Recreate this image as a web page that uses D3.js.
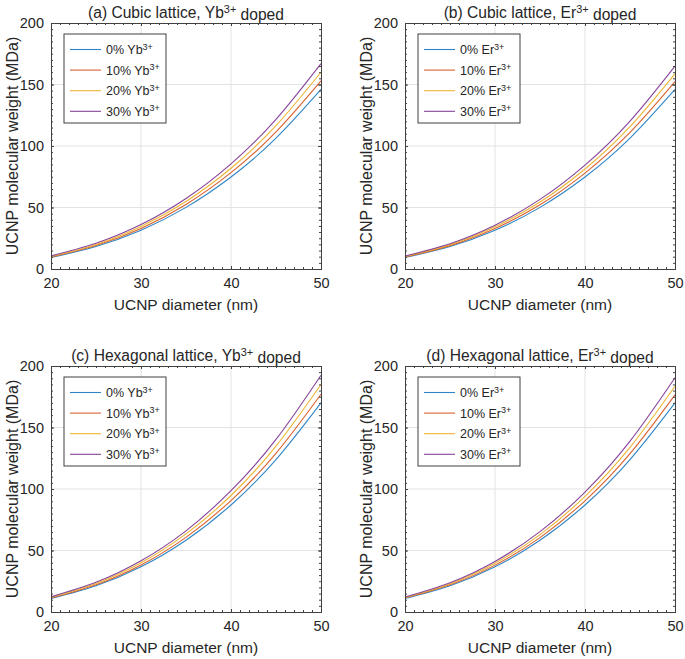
<!DOCTYPE html>
<html><head><meta charset="utf-8">
<script src="https://cdn.jsdelivr.net/npm/d3@7"></script>
<style>body{margin:0;background:#fff}svg{display:block}text{font-family:"Liberation Sans",Arial,Helvetica,sans-serif;fill:#262626}</style>
</head><body>
<script>
const diameters = [20, 25, 30, 35, 40, 45, 50];
const xTicks = [20, 30, 40, 50];
const yTicks = [0, 50, 100, 150, 200];
const dopingLabels = ["0%", "10%", "20%", "30%"];
// values (MDa)
const cubicYb0 = [9.3, 18.3, 31.5, 50.1, 74.8, 106.4, 146];
const cubicYb1 = [9.8, 19.1, 33.0, 52.5, 78.3, 111.5, 153];
const cubicYb2 = [10.2, 20.0, 34.6, 54.9, 81.9, 116.6, 160];
const cubicYb3 = [10.7, 20.9, 36.1, 57.3, 85.5, 121.7, 167];
const cubicEr0 = [9.3, 18.3, 31.5, 50.1, 74.8, 106.4, 146];
const cubicEr1 = [9.7, 19.0, 32.9, 52.2, 78.0, 111.0, 152.3];
const cubicEr2 = [10.2, 19.8, 34.3, 54.4, 81.3, 115.7, 158.7];
const cubicEr3 = [10.6, 20.6, 35.6, 56.6, 84.5, 120.3, 165];
const hexYb0 = [10.9, 21.3, 36.7, 58.3, 87.0, 123.9, 170];
const hexYb1 = [11.3, 22.1, 38.2, 60.7, 90.6, 129.0, 177];
const hexYb2 = [11.8, 23.1, 40.0, 63.5, 94.7, 134.9, 185];
const hexYb3 = [12.3, 24.1, 41.6, 66.0, 98.6, 140.3, 192.5];
const hexEr0 = [10.9, 21.3, 36.7, 58.3, 87.0, 123.9, 170];
const hexEr1 = [11.3, 22.1, 38.1, 60.5, 90.4, 128.7, 176.5];
const hexEr2 = [11.7, 22.9, 39.6, 62.9, 94.0, 133.8, 183.5];
const hexEr3 = [12.2, 23.8, 41.1, 65.3, 97.5, 138.9, 190.5];
const colors = ["#2f86c6", "#d9622f", "#ecb434", "#86449a"];

const panels = [
  {pre: "(a) Cubic lattice, ", ion: "Yb", series: [cubicYb0, cubicYb1, cubicYb2, cubicYb3], left: 51, top: 23},
  {pre: "(b) Cubic lattice, ", ion: "Er", series: [cubicEr0, cubicEr1, cubicEr2, cubicEr3], left: 405, top: 23},
  {pre: "(c) Hexagonal lattice, ", ion: "Yb", series: [hexYb0, hexYb1, hexYb2, hexYb3], left: 51, top: 366},
  {pre: "(d) Hexagonal lattice, ", ion: "Er", series: [hexEr0, hexEr1, hexEr2, hexEr3], left: 405, top: 366}
];
const W = 270, H = 246;

const svg = d3.select("body").append("svg").attr("width", 685).attr("height", 659);

panels.forEach(p => {
  const g = svg.append("g").attr("transform", `translate(${p.left},${p.top})`);
  const x = d3.scaleLinear().domain([20, 50]).range([0, W]);
  const y = d3.scaleLinear().domain([0, 200]).range([H, 0]);

  // grid
  g.append("g").selectAll("line").data(xTicks.slice(1, -1)).join("line")
    .attr("x1", d => x(d)).attr("x2", d => x(d)).attr("y1", 0).attr("y2", H)
    .attr("stroke", "#e3e3e3").attr("stroke-width", 1);
  g.append("g").selectAll("line").data(yTicks.slice(1, -1)).join("line")
    .attr("y1", d => y(d)).attr("y2", d => y(d)).attr("x1", 0).attr("x2", W)
    .attr("stroke", "#e3e3e3").attr("stroke-width", 1);

  // lines
  const line = d3.line().x((d, i) => x(diameters[i])).y(d => y(d)).curve(d3.curveNatural);
  p.series.forEach((s, i) => {
    g.append("path").attr("d", line(s)).attr("fill", "none")
      .attr("stroke", colors[i]).attr("stroke-width", 1.1);
  });

  // axes with inward ticks
  const ac = "#404040";
  const xMinor = d3.range(20, 51, 1);
  const yMinor = d3.range(0, 201, 5);
  const axB = d3.axisBottom(x).tickValues(xTicks).tickSize(-3).tickPadding(9).tickFormat(d3.format("d"));
  const axT = d3.axisTop(x).tickValues(xTicks).tickSize(-3).tickFormat("");
  const axL = d3.axisLeft(y).tickValues(yTicks).tickSize(-3).tickPadding(7).tickFormat(d3.format("d"));
  const axR = d3.axisRight(y).tickValues(yTicks).tickSize(-3).tickFormat("");
  const mB = d3.axisBottom(x).tickValues(xMinor).tickSize(-2).tickFormat("");
  const mT = d3.axisTop(x).tickValues(xMinor).tickSize(-2).tickFormat("");
  const mL = d3.axisLeft(y).tickValues(yMinor).tickSize(-2).tickFormat("");
  const mR = d3.axisRight(y).tickValues(yMinor).tickSize(-2).tickFormat("");
  const style = sel => { sel.selectAll("path,line").attr("stroke", ac); sel.selectAll("text").attr("font-size", 14.5).attr("fill", "#262626").attr("font-family", "Liberation Sans, Arial, sans-serif"); };
  g.append("g").attr("transform", `translate(0,${H})`).call(mB).call(style);
  g.append("g").call(mT).call(style);
  g.append("g").call(mL).call(style);
  g.append("g").attr("transform", `translate(${W},0)`).call(mR).call(style);
  g.append("g").attr("transform", `translate(0,${H})`).call(axB).call(style);
  g.append("g").call(axT).call(style);
  g.append("g").call(axL).call(style);
  g.append("g").attr("transform", `translate(${W},0)`).call(axR).call(style);

  // title
  const t = g.append("text").attr("x", W / 2).attr("y", -5).attr("text-anchor", "middle").attr("font-size", 15.6);
  t.append("tspan").text(p.pre + p.ion);
  t.append("tspan").attr("dy", "-0.45em").attr("font-size", "0.7em").text("3+");
  t.append("tspan").attr("dy", "0.45em").text(" doped");

  // axis labels
  g.append("text").attr("x", W / 2).attr("y", H + 41).attr("text-anchor", "middle").attr("font-size", 15.5).text("UCNP diameter (nm)");
  g.append("text").attr("transform", `translate(-33,${H / 2}) rotate(-90)`).attr("text-anchor", "middle").attr("font-size", 16).text("UCNP molecular weight (MDa)");

  // legend
  const lg = g.append("g").attr("transform", "translate(13,11)");
  lg.append("rect").attr("width", 102).attr("height", 89).attr("fill", "#fff").attr("stroke", "#404040").attr("stroke-width", 1);
  dopingLabels.forEach((lab, i) => {
    const yy = 15.5 + i * 20.6;
    lg.append("line").attr("x1", 6).attr("x2", 37).attr("y1", yy).attr("y2", yy).attr("stroke", colors[i]).attr("stroke-width", 1.1);
    const tx = lg.append("text").attr("x", 42).attr("y", yy + 4.5).attr("font-size", 12.5);
    tx.append("tspan").text(lab + " " + p.ion);
    tx.append("tspan").attr("dy", "-0.5em").attr("font-size", "0.72em").text("3+");
  });
});
</script>
</body></html>
